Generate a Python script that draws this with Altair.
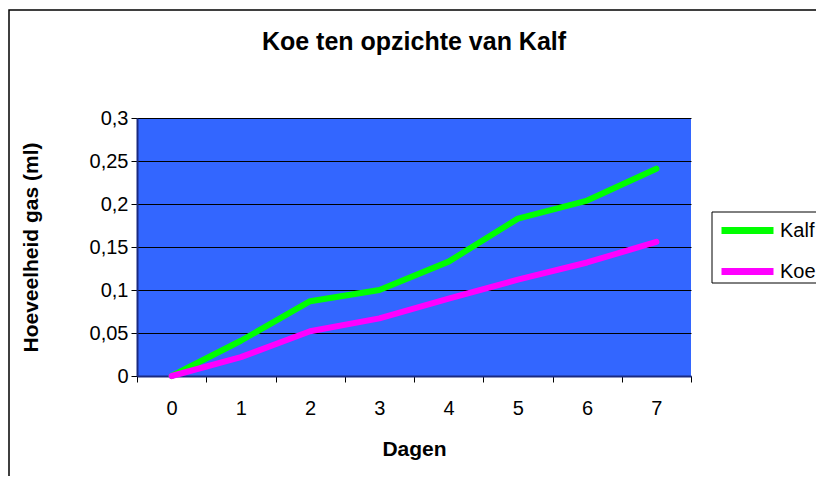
import altair as alt
import pandas as pd

days = [0, 1, 2, 3, 4, 5, 6, 7]
kalf = [0.0, 0.041, 0.087, 0.100, 0.133, 0.183, 0.204, 0.241]
koe = [0.0, 0.022, 0.052, 0.067, 0.090, 0.112, 0.132, 0.156]
series_names = ["Kalf", "Koe"]
series_colors = ["#00FF00", "#FF00FF"]
y_ticks = [0, 0.05, 0.1, 0.15, 0.2, 0.25, 0.3]

rows = []
for d, a, b in zip(days, kalf, koe):
    rows.append({"Dagen": str(d), "Serie": "Kalf", "Waarde": a})
    rows.append({"Dagen": str(d), "Serie": "Koe", "Waarde": b})
df = pd.DataFrame(rows)

FONT = "Liberation Sans"

lines = alt.Chart(df).mark_line(strokeWidth=6, strokeCap="round", strokeJoin="round").encode(
    x=alt.X("Dagen:O", sort=[str(d) for d in days],
            scale=alt.Scale(paddingInner=0, paddingOuter=0),
            axis=alt.Axis(title="Dagen", labelAngle=0, tickBand="extent",
                          labelFontSize=20, labelPadding=16, labelColor="black",
                          tickSize=6, tickColor="black", domainColor="#1a2a80",
                          domainWidth=2,
                          titleFontSize=21, titleFontWeight="bold", titleColor="black",
                          titleY=73, titleBaseline="middle", grid=False)),
    y=alt.Y("Waarde:Q",
            scale=alt.Scale(domain=[0, 0.3], nice=False),
            axis=alt.Axis(title="Hoeveelheid gas (ml)", values=y_ticks,
                          labelExpr="replace(format(datum.value, '.2~f'), '.', ',')",
                          labelFontSize=20, labelPadding=3, labelColor="black",
                          tickSize=6, tickColor="black", domainColor="#1a2a80",
                          domainWidth=2,
                          grid=True, gridColor="black", gridWidth=1,
                          titleFontSize=21, titleFontWeight="bold", titleColor="black",
                          titleX=-106, titleY=129, titleAngle=-90,
                          titleAlign="center", titleBaseline="middle")),
    color=alt.Color("Serie:N",
                    scale=alt.Scale(domain=series_names, range=series_colors),
                    legend=alt.Legend(title=None, orient="none", legendX=588, legendY=90,
                                      symbolType="M-2,0H2", symbolSize=676,
                                      symbolStrokeWidth=7, labelFontSize=20,
                                      labelColor="black", labelOffset=16,
                                      rowPadding=10, padding=6)),
)

frame = alt.Chart(pd.DataFrame({"a": [0]})).mark_rect(
    fill=None, stroke="black", strokeWidth=1.5
).encode(
    x=alt.value(-128), x2=alt.value(760), y=alt.value(-108), y2=alt.value(500)
)

legend_box = alt.Chart(pd.DataFrame({"a": [0]})).mark_rect(
    fill="white", stroke="black", strokeWidth=1
).encode(
    x=alt.value(575), x2=alt.value(760), y=alt.value(94), y2=alt.value(165)
)

chart = alt.layer(frame, legend_box, lines).properties(
    width=554, height=258,
    title=alt.TitleParams("Koe ten opzichte van Kalf", fontSize=25, fontWeight="bold",
                          font=FONT, color="black", anchor="middle", offset=-46),
    autosize=alt.AutoSizeParams(type="none"),
    padding={"left": 129, "top": 110, "right": 125, "bottom": 100},
).configure(font=FONT).configure_view(
    fill="#3366FF", stroke=None
)

chart.save("out.html", embed_options={"renderer": "svg", "actions": False})
